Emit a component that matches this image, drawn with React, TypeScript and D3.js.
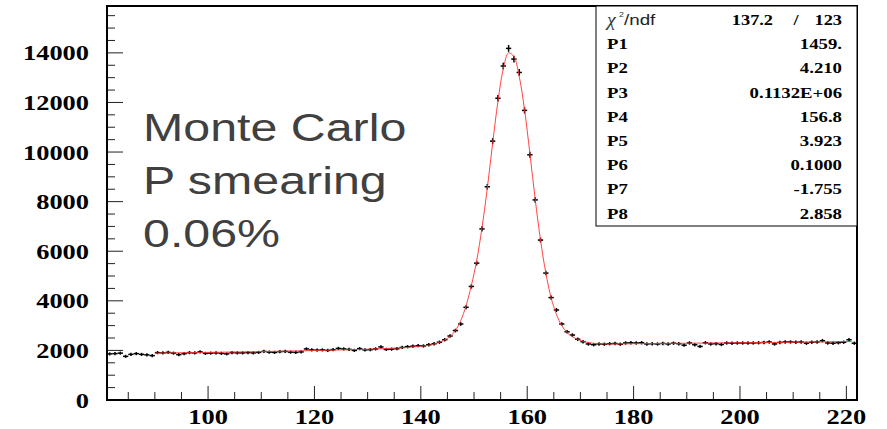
import React from 'react';
import * as d3 from 'd3';

// Histogram: bins of width 1 starting at 81
const BIN_START = 81;
const BIN_WIDTH = 1;
const counts = [
  1860, 1870, 1890, 1760, 1840, 1870, 1840, 1820, 1790,
  1910, 1900, 1920, 1890, 1830, 1870, 1910, 1900, 1940, 1880,
  1890, 1900, 1880, 1860, 1910, 1900, 1900, 1910, 1900, 1920,
  1960, 1930, 1920, 1950, 1960, 1930, 1920, 1940, 2060, 2020,
  2010, 2020, 2000, 2030, 2080, 2060, 2040, 2000, 2070, 2020,
  2030, 2060, 2140, 2040, 2050, 2070, 2120, 2150, 2170, 2190,
  2180, 2230, 2270, 2330, 2430, 2580, 2800, 3065, 3740, 4580,
  5520, 6900, 8600, 10440, 12170, 13470, 14180, 13750, 13210, 11680,
  9890, 8070, 6450, 5120, 4130, 3630, 3065, 2750, 2620, 2450,
  2350, 2260, 2230, 2260, 2250, 2270, 2280, 2250, 2300, 2310,
  2300, 2310, 2260, 2270, 2260, 2280, 2260, 2290, 2270, 2210,
  2300, 2230, 2160, 2310, 2260, 2270, 2240, 2300, 2290, 2300,
  2300, 2300, 2300, 2310, 2320, 2340, 2260, 2320, 2340, 2340,
  2330, 2340, 2290, 2330, 2340, 2390, 2300, 2290, 2310, 2330,
  2430, 2290,
];

// Fit curve
const fitX = [90, 100, 110, 120, 130, 136, 140, 142, 144, 145.5, 146.5, 147.5, 148.5, 149.5, 150.5, 151.5, 152.5, 153.5, 154.5, 155.5, 156.5, 157.5, 158.5, 159.5, 160.5, 161.5, 162.5, 163.5, 164.5, 165.5, 166.5, 167.5, 168.5, 169.5, 170.5, 172, 175, 180, 190, 200, 210, 221];
const fitY = [1890, 1920, 1950, 1995, 2050, 2100, 2170, 2230, 2370, 2560, 2800, 3200, 3800, 4620, 5620, 6950, 8550, 10350, 12050, 13350, 14000, 13850, 13050, 11700, 9950, 8100, 6450, 5120, 4120, 3450, 3000, 2720, 2550, 2440, 2370, 2300, 2260, 2270, 2290, 2310, 2330, 2360];

const xMajorTicks = [100, 120, 140, 160, 180, 200, 220];
const xMinorTicks = [85, 90, 95, 105, 110, 115, 125, 130, 135, 145, 150, 155, 165, 170, 175, 185, 190, 195, 205, 210, 215];
const yMajorTicks = [0, 2000, 4000, 6000, 8000, 10000, 12000, 14000];
const yMinorTicks = [500, 1000, 1500, 2500, 3000, 3500, 4500, 5000, 5500, 6500, 7000, 7500, 8500, 9000, 9500, 10500, 11000, 11500, 12500, 13000, 13500, 14500, 15000, 15500];

const chiText = ['137.2', '/', '123'];
const statLabels = ['P1', 'P2', 'P3', 'P4', 'P5', 'P6', 'P7', 'P8'];
const statValues = ['1459.', '4.210', '0.1132E+06', '156.8', '3.923', '0.1000', '-1.755', '2.858'];
const noteLines = ['Monte Carlo', 'P smearing', '0.06%'];

const SERIF = '"Liberation Serif", "Times New Roman", serif';
const SANS = '"Liberation Sans", Arial, sans-serif';

function ST({ x, y, sx = 1.2, anchor = 'start', children, ...rest }: any) {
  return (
    <text transform={`translate(${x},${y}) scale(${sx},1)`} textAnchor={anchor} {...rest}>
      {children}
    </text>
  );
}

export default function App() {
  const W = 887, H = 429;
  const X0 = 107, X1 = 857, Y0 = 400, Y1 = 6;
  const x = d3.scaleLinear().domain([81, 222]).range([X0, X1]);
  const y = d3.scaleLinear().domain([0, 15890]).range([Y0, Y1]);

  const fitLine = d3.line<number>()
    .x((_, i) => x(fitX[i]))
    .y((d) => y(d))
    .curve(d3.curveCatmullRom.alpha(0.5));

  const boxL = 596, boxT = Y1, boxR = X1, boxB = 226;
  const rowY = (i: number) => 25 + i * 24.2;

  return (
    <div style={{ position: 'absolute', left: 0, top: 0 }}>
      <svg width={W} height={H} viewBox={`0 0 ${W} ${H}`} style={{ display: 'block', background: '#fff' }}>
        <rect x={0} y={0} width={W} height={H} fill="#fff" />

        {/* data points */}
        <g stroke="#000" strokeWidth={1.5} fill="none">
          {counts.map((c, i) => {
            const lo = BIN_START + i * BIN_WIDTH;
            const xc = lo + BIN_WIDTH / 2;
            const err = Math.sqrt(c);
            return (
              <g key={i}>
                <line x1={x(lo)} x2={x(lo + BIN_WIDTH)} y1={y(c)} y2={y(c)} />
                <line x1={x(xc)} x2={x(xc)} y1={y(c - err) + 0.5} y2={y(c + err) - 0.5} />
              </g>
            );
          })}
        </g>

        {/* fit curve */}
        <path d={fitLine(fitY) || ''} fill="none" stroke="#ff3030" strokeWidth={0.9} />

        {/* ticks */}
        <g stroke="#222" strokeWidth={1}>
          {yMajorTicks.map((t) => (
            <line key={'ym' + t} x1={X0} x2={X0 + 16} y1={y(t)} y2={y(t)} />
          ))}
          {yMinorTicks.map((t) => (
            <line key={'yn' + t} x1={X0} x2={X0 + 8} y1={y(t)} y2={y(t)} />
          ))}
          {xMajorTicks.map((t) => (
            <line key={'xm' + t} x1={x(t)} x2={x(t)} y1={Y0} y2={Y0 - 14} />
          ))}
          {xMinorTicks.map((t) => (
            <line key={'xn' + t} x1={x(t)} x2={x(t)} y1={Y0} y2={Y0 - 8} />
          ))}
        </g>

        {/* frame */}
        <rect x={X0} y={Y1} width={X1 - X0} height={Y0 - Y1} fill="none" stroke="#000" strokeWidth={2} />

        {/* tick labels */}
        <g fontFamily={SERIF} fontWeight="bold" fontSize={22} fill="#000">
          {yMajorTicks.map((t) => (
            <ST key={'yl' + t} x={89} y={y(t) + 7.5} sx={1.2} anchor="end">{t}</ST>
          ))}
          {xMajorTicks.map((t) => (
            <ST key={'xl' + t} x={x(t)} y={424} sx={1.2} anchor="middle">{t}</ST>
          ))}
        </g>

        {/* note text */}
        <g fontFamily={SANS} fontSize={39} fill="#404040">
          {noteLines.map((s, i) => (
            <ST key={s} x={143} y={141 + i * 53} sx={1.24}>{s}</ST>
          ))}
        </g>

        {/* stats box */}
        <rect x={boxL} y={boxT} width={boxR - boxL} height={boxB - boxT} fill="#fff" stroke="#000" strokeWidth={1} />
        <g fill="#000">
          <ST x={607} y={rowY(0) + 1} sx={1.1} fontFamily={SERIF} fontStyle="italic" fontSize={18} fill="#333">χ</ST>
          <ST x={619} y={rowY(0) - 8} sx={1.1} fontFamily={SANS} fontSize={8} fill="#333">2</ST>
          <ST x={624} y={rowY(0)} sx={1.25} fontFamily={SANS} fontSize={15} fill="#222">/ndf</ST>
          <g fontFamily={SERIF} fontWeight="bold" fontSize={15}>
            <ST x={773} y={rowY(0)} sx={1.22} anchor="end">{chiText[0]}</ST>
            <ST x={796} y={rowY(0)} sx={1.22} anchor="middle">{chiText[1]}</ST>
            <ST x={842} y={rowY(0)} sx={1.22} anchor="end">{chiText[2]}</ST>
            {statLabels.map((l, i) => (
              <ST key={l} x={607} y={rowY(i + 1)} sx={1.25}>{l}</ST>
            ))}
            {statValues.map((v, i) => (
              <ST key={'v' + i} x={842} y={rowY(i + 1)} sx={1.25} anchor="end">{v}</ST>
            ))}
          </g>
        </g>
      </svg>
    </div>
  );
}
